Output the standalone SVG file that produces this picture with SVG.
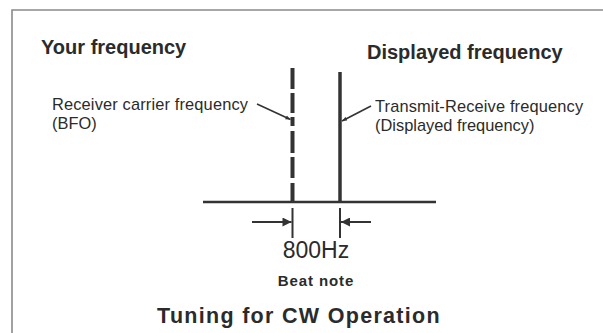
<svg xmlns="http://www.w3.org/2000/svg" width="603" height="333" viewBox="0 0 603 333">
<defs>
<style>
text{font-family:"Liberation Sans",Arial,sans-serif;fill:#2b2b2b}
.h{font-size:20px;font-weight:bold}
.l{font-size:16.4px}
.ln{stroke:#333;fill:none}
</style>
<marker id="ah" viewBox="0 0 10 10" refX="10" refY="5" markerWidth="5" markerHeight="5" markerUnits="userSpaceOnUse" orient="auto">
<path d="M0,1 L10,5 L0,9 Z" fill="#333"/>
</marker>
<marker id="dh" viewBox="0 0 10 10" refX="10" refY="5" markerWidth="11" markerHeight="9" markerUnits="userSpaceOnUse" orient="auto">
<path d="M0,0 L10,5 L0,10 Z" fill="#333"/>
</marker>
</defs>
<rect width="603" height="333" fill="#fff"/>
<path d="M12,333 V10 H603" fill="none" stroke="#8a8a8a" stroke-width="1.6"/>

<g id="title-your"><text class="h" x="41" y="54">Your frequency</text></g>
<g id="title-displayed"><text class="h" x="367" y="59">Displayed frequency</text></g>

<g id="bfo-label"><text class="l" x="52" y="110" letter-spacing="0.15">Receiver carrier frequency</text><text class="l" x="52" y="129">(BFO)</text></g>
<g id="tr-label"><text class="l" x="375" y="112" letter-spacing="0.15">Transmit-Receive frequency</text><text class="l" x="375" y="131">(Displayed frequency)</text></g>

<g id="bfo-line"><path class="ln" stroke-width="4" d="M292.5,68 V89 M292.5,93 V113 M292.5,117 V126 M292.5,131 V153 M292.5,157 V178 M292.5,183 V202"/></g>
<g id="tr-line"><path class="ln" stroke-width="3.5" d="M340,72 V202"/></g>
<g id="axis"><path class="ln" stroke-width="2.5" d="M203,202 H436"/></g>

<g id="connectors">
<path class="ln" stroke-width="1.6" d="M257,104 L290.5,119.5" marker-end="url(#ah)"/>
<path class="ln" stroke-width="1.6" d="M371,106 L342,121" marker-end="url(#ah)"/>
<path class="ln" stroke-width="2" d="M292.5,208 V238 M340,208 V238"/>
<path class="ln" stroke-width="2" d="M252,222 H291.5" marker-end="url(#dh)"/>
<path class="ln" stroke-width="2" d="M371,222 H341" marker-end="url(#dh)"/>
</g>

<g id="freq-label"><text x="316" y="258" text-anchor="middle" font-size="23">800Hz</text></g>
<g id="beat-label"><text x="316" y="286" text-anchor="middle" font-size="15" font-weight="bold" letter-spacing="0.9">Beat note</text></g>
<g id="caption"><text x="299" y="323" text-anchor="middle" font-size="21.5" font-weight="bold" letter-spacing="1.3">Tuning for CW Operation</text></g>
</svg>
